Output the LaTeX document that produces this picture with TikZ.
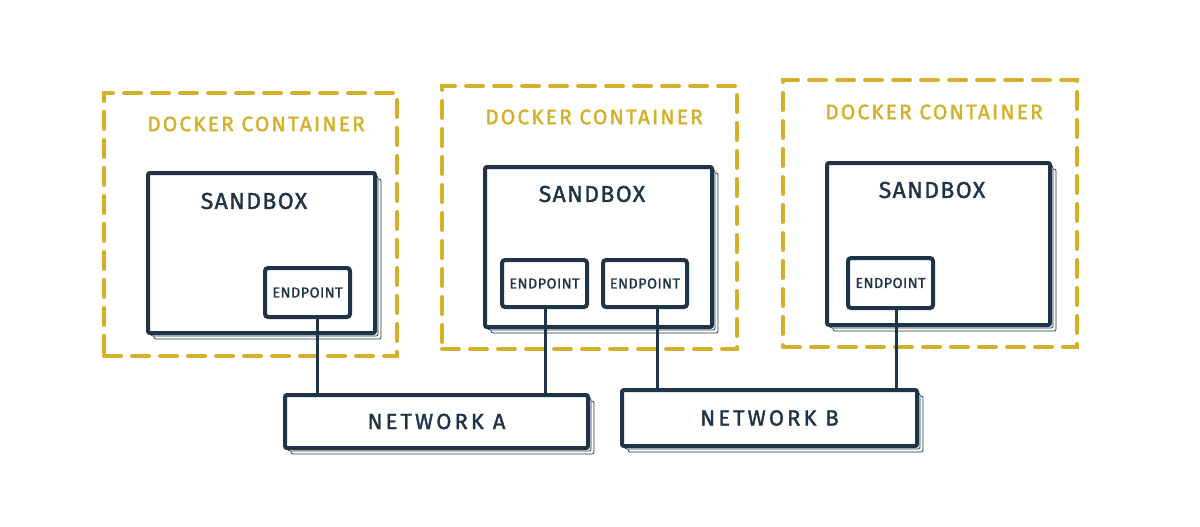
\documentclass[tikz,border=0pt]{standalone}
\usepackage{fontspec}
\setmainfont{Fira Sans}
\newfontfamily\handA[LetterSpace=10,FakeBold=1.5]{Fira Sans}
\newfontfamily\handN[LetterSpace=14,FakeBold=1.5]{Fira Sans}
\newfontfamily\handS[LetterSpace=6,FakeBold=1.5]{Fira Sans}
\newfontfamily\handB[LetterSpace=3,FakeBold=1.2]{Fira Sans}
\usetikzlibrary{shadows}
\definecolor{navy}{HTML}{1F3447}
\definecolor{gold}{HTML}{D4B02A}
\tikzset{
  cont/.style={draw=gold, line width=4pt, dash pattern=on 17pt off 11pt, line cap=round, inner sep=0pt},
  conttext/.style={text=gold, font=\handA\fontsize{21}{24}\selectfont, inner sep=0pt},
  navytext/.style={text=navy, inner sep=0pt},
  sbox/.style={draw=navy, line width=4pt, fill=white, rounded corners=2pt, inner sep=0pt,
    double copy shadow={shadow xshift=3pt, shadow yshift=-3pt, draw=navy, line width=0.7pt, fill=white}},
  epbox/.style={draw=navy, line width=4pt, fill=white, rounded corners=3pt, inner sep=0pt,
    font=\handB\fontsize{14.5}{16}\selectfont, text=navy},
  netbox/.style={draw=navy, line width=4pt, fill=white, rounded corners=2pt, inner sep=0pt,
    font=\handN\fontsize{22}{24}\selectfont, text=navy,
    double copy shadow={shadow xshift=3pt, shadow yshift=-3pt, draw=navy, line width=0.7pt, fill=white}},
  conn/.style={draw=navy, line width=3pt},
  sbtext/.style={navytext, font=\handS\fontsize{23}{24}\selectfont},
}
\begin{document}
\begin{tikzpicture}[x=1pt,y=-1pt]
\useasboundingbox[fill=white] (0,0) rectangle (1200,527);
% containers
\node[cont, minimum width=293pt, minimum height=263pt] (c1) at (250.5,224.5) {};
\node[cont, minimum width=295pt, minimum height=263pt] (c2) at (589.5,217.5) {};
\node[cont, minimum width=294pt, minimum height=267pt] (c3) at (930,213.5) {};
\node[conttext] (c1t) at (256,124) {DOCKER CONTAINER};
\node[conttext] (c2t) at (594,117) {DOCKER CONTAINER};
\node[conttext] (c3t) at (934,112) {DOCKER CONTAINER};
% sandboxes
\node[sbox, minimum width=227pt, minimum height=160pt] (s1) at (261.5,253) {};
\node[sbox, minimum width=227pt, minimum height=160pt] (s2) at (598.5,247) {};
\node[sbox, minimum width=223pt, minimum height=162pt] (s3) at (938.5,244) {};
\node[sbtext] (s1t) at (254,201) {SANDBOX};
\node[sbtext] (s2t) at (592,194) {SANDBOX};
\node[sbtext] (s3t) at (932,190) {SANDBOX};
% endpoints
\node[epbox, minimum width=85pt, minimum height=49pt] (e1) at (307.5,292.5) {ENDPOINT};
\node[epbox, minimum width=85pt, minimum height=47pt] (e2) at (544.5,283.5) {ENDPOINT};
\node[epbox, minimum width=84pt, minimum height=47pt] (e3) at (645,283.5) {ENDPOINT};
\node[epbox, minimum width=85pt, minimum height=50pt] (e4) at (890.5,283) {ENDPOINT};
% networks
\node[netbox, minimum width=303pt, minimum height=53pt] (na) at (436.5,421.5) {NETWORK A};
\node[netbox, minimum width=295pt, minimum height=56pt] (nb) at (769.5,418) {NETWORK B};
% connectors
\draw[conn] ([xshift=10pt]e1.south) -- ([xshift=10pt]e1.south |- na.north);
\draw[conn] ([xshift=1pt]e2.south) -- ([xshift=1pt]e2.south |- na.north);
\draw[conn] ([xshift=12pt]e3.south) -- ([xshift=12pt]e3.south |- nb.north);
\draw[conn] ([xshift=6pt]e4.south) -- ([xshift=6pt]e4.south |- nb.north);
\end{tikzpicture}
\end{document}
